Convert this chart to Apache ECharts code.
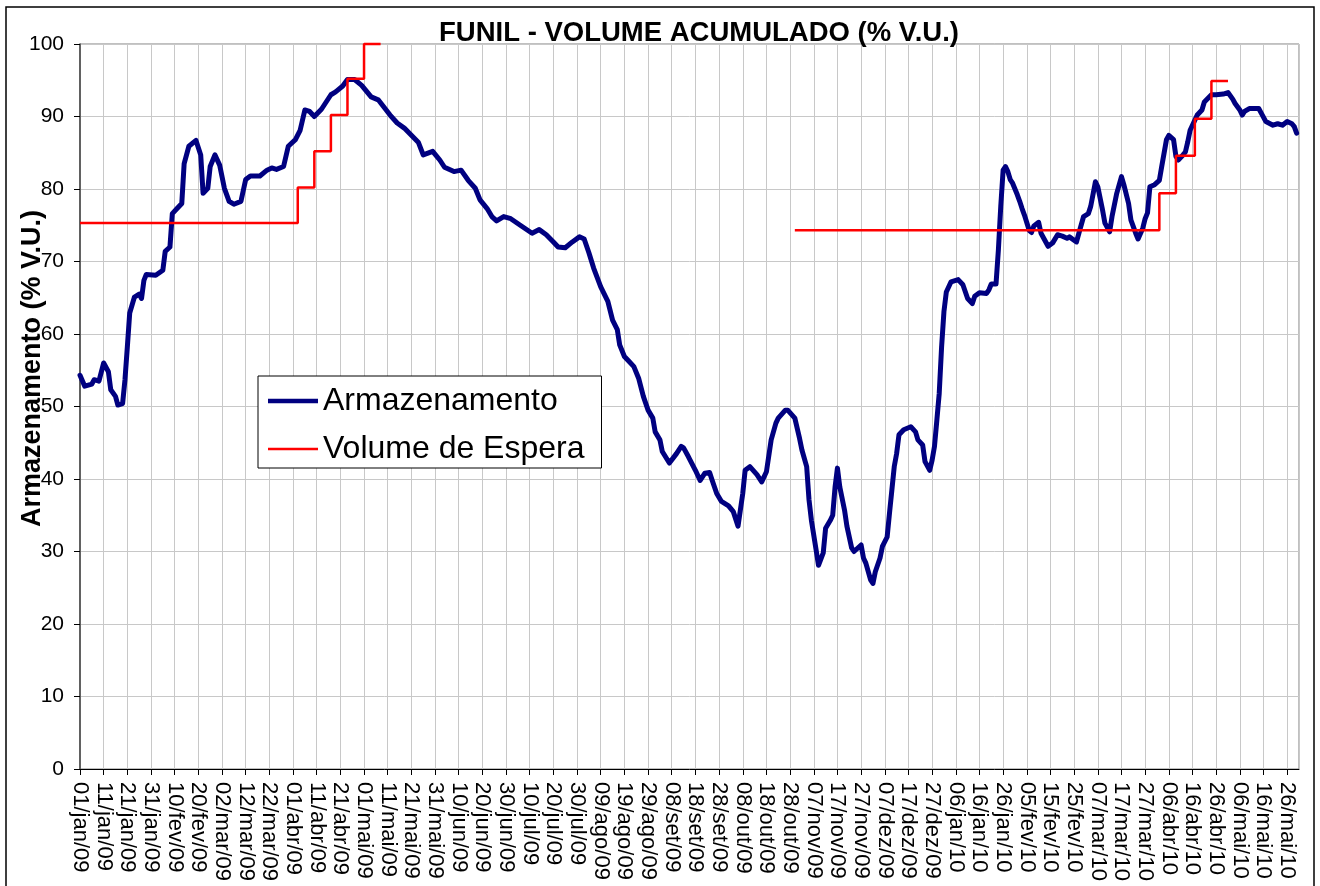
<!DOCTYPE html>
<html>
<head>
<meta charset="utf-8">
<title>FUNIL - VOLUME ACUMULADO</title>
<script src="https://cdn.jsdelivr.net/npm/echarts@6/dist/echarts.min.js"></script>
<style>
  html, body { margin: 0; padding: 0; background: #fff; }
  #main { width: 1320px; height: 886px; }
</style>
</head>
<body>
<div id="main"></div>
<script>
// dias contados a partir de 01/jan/09
var armDias = [0, 2, 5, 6, 8, 10, 12, 13, 15, 16, 18, 19, 20, 21, 23, 25, 26, 27, 28, 32,
  35, 36, 38, 39, 41, 43, 44, 46, 49, 51, 52, 54, 55, 57, 59, 61, 63, 65, 68, 70,
  72, 76, 79, 81, 83, 86, 88, 91, 93, 95, 97, 99, 102, 104, 106, 108, 111, 113, 116, 119,
  123, 126, 131, 134, 137, 140, 143, 145, 149, 152, 154, 158, 161, 164, 167, 169, 172, 174, 176, 179,
  182, 186, 191, 194, 197, 200, 202, 205, 208, 211, 213, 215, 217, 220, 223, 225, 227, 228, 230, 232,
  234, 236, 238, 240, 242, 243, 245, 246, 249, 252, 254, 255, 257, 260, 262, 264, 266, 267, 269, 271,
  274, 276, 278, 280, 281, 283, 286, 288, 290, 292, 294, 295, 298, 299, 302, 304, 305, 307, 308, 309,
  311, 312, 314, 315, 317, 318, 319, 320, 321, 323, 324, 326, 327, 330, 331, 332, 334, 335, 336, 338,
  339, 341, 342, 343, 344, 345, 346, 348, 351, 353, 354, 356, 357, 359, 360, 361, 362, 363, 364, 365,
  366, 368, 371, 373, 375, 377, 378, 380, 383, 384, 385, 387, 388, 389, 390, 391, 392, 393, 394, 396,
  397, 398, 399, 401, 402, 403, 405, 406, 409, 411, 413, 415, 417, 418, 421, 422, 424, 426, 427, 429,
  430, 432, 433, 435, 436, 438, 440, 441, 443, 444, 446, 447, 449, 450, 451, 452, 454, 456, 457, 459,
  460, 462, 463, 464, 466, 467, 468, 469, 471, 472, 474, 475, 478, 480, 483, 485, 487, 488, 490, 491,
  492, 494, 498, 499, 501, 504, 506, 508, 510, 512, 513, 514];
var armValores = [54.3, 52.8, 53.1, 53.7, 53.5, 56.0, 54.8, 52.3, 51.4, 50.2, 50.4, 53.7, 58.2, 62.9, 65.1, 65.5, 64.9, 67.4, 68.2, 68.1,
  68.8, 71.4, 72.0, 76.6, 77.3, 78.0, 83.5, 85.9, 86.7, 84.7, 79.4, 80.1, 83.1, 84.7, 83.3, 80.1, 78.3, 77.9, 78.3, 81.3,
  81.8, 81.8, 82.6, 82.9, 82.7, 83.1, 85.9, 86.8, 88.1, 90.9, 90.7, 90.0, 91.0, 92.0, 93.0, 93.4, 94.2, 95.1, 95.1, 94.3,
  92.7, 92.3, 90.2, 89.1, 88.4, 87.4, 86.4, 84.7, 85.2, 84.0, 83.0, 82.4, 82.6, 81.2, 80.1, 78.5, 77.3, 76.2, 75.6, 76.2,
  75.9, 75.0, 73.9, 74.4, 73.7, 72.7, 72.0, 71.9, 72.7, 73.4, 73.1, 71.2, 69.1, 66.5, 64.5, 61.9, 60.6, 58.5, 56.9, 56.2,
  55.5, 53.9, 51.4, 49.5, 48.4, 46.5, 45.4, 43.8, 42.2, 43.5, 44.5, 44.3, 43.1, 41.2, 39.8, 40.8, 40.9, 39.9, 38.0, 36.9,
  36.3, 35.5, 33.5, 38.0, 41.2, 41.7, 40.6, 39.6, 41.0, 45.4, 47.7, 48.4, 49.5, 49.5, 48.4, 45.6, 44.0, 41.7, 37.1, 34.3,
  30.2, 28.1, 29.8, 33.2, 34.3, 35.0, 38.9, 41.5, 38.9, 35.7, 33.5, 30.5, 30.0, 30.9, 29.1, 28.4, 26.1, 25.6, 27.2, 29.1,
  30.7, 32.0, 35.3, 38.5, 41.7, 43.5, 46.1, 46.8, 47.2, 46.5, 45.4, 44.7, 42.4, 41.2, 42.6, 44.5, 48.1, 51.8, 58.2, 63.1,
  65.8, 67.2, 67.5, 66.8, 64.9, 64.2, 65.2, 65.7, 65.6, 66.1, 66.9, 66.9, 71.6, 77.6, 82.6, 83.1, 82.4, 81.3, 80.8, 79.2,
  78.3, 77.3, 76.4, 74.3, 74.0, 74.9, 75.4, 73.9, 72.1, 72.6, 73.7, 73.5, 73.2, 73.4, 72.7, 73.9, 76.2, 76.6, 77.6, 81.0,
  80.3, 77.1, 75.3, 74.1, 76.2, 79.4, 81.7, 80.6, 78.0, 75.7, 73.9, 73.1, 74.6, 75.9, 76.7, 80.3, 80.6, 81.2, 83.1, 86.8,
  87.4, 86.8, 84.5, 84.0, 84.7, 85.1, 86.5, 88.1, 89.5, 90.2, 90.9, 92.0, 93.0, 93.0, 93.1, 93.3, 92.4, 91.8, 90.9, 90.2,
  90.7, 91.1, 91.1, 90.5, 89.3, 88.8, 89.0, 88.8, 89.3, 89.0, 88.6, 87.7];

// volume de espera (degraus semanais), dois trechos
var espera1Dias = [0, 92, 99, 106, 113, 120, 127];
var espera1Valores = [75.3, 80.2, 85.2, 90.2, 95.2, 100, 100];
var espera2Dias = [302, 456, 463, 471, 478, 485];
var espera2Valores = [74.3, 79.4, 84.6, 89.7, 94.9, 94.9];

var rotulosData = ['01/jan/09', '11/jan/09', '21/jan/09', '31/jan/09', '10/fev/09', '20/fev/09',
  '02/mar/09', '12/mar/09', '22/mar/09', '01/abr/09', '11/abr/09', '21/abr/09', '01/mai/09',
  '11/mai/09', '21/mai/09', '31/mai/09', '10/jun/09', '20/jun/09', '30/jun/09', '10/jul/09',
  '20/jul/09', '30/jul/09', '09/ago/09', '19/ago/09', '29/ago/09', '08/set/09', '18/set/09',
  '28/set/09', '08/out/09', '18/out/09', '28/out/09', '07/nov/09', '17/nov/09', '27/nov/09',
  '07/dez/09', '17/dez/09', '27/dez/09', '06/jan/10', '16/jan/10', '26/jan/10', '05/fev/10',
  '15/fev/10', '25/fev/10', '07/mar/10', '17/mar/10', '27/mar/10', '06/abr/10', '16/abr/10',
  '26/abr/10', '06/mai/10', '16/mai/10', '26/mai/10'];
var ultimoDia = 515;

function pares(dias, valores) {
    var out = [];
    for (var i = 0; i < dias.length; i++) {
        out.push([dias[i], valores[i]]);
    }
    return out;
}

var fonte = '"Liberation Sans", Arial, sans-serif';
var myChart = echarts.init(document.getElementById('main'));
var option = {
    backgroundColor: '#fff',
    animation: false,
    title: {
        text: 'FUNIL - VOLUME ACUMULADO (% V.U.)',
        left: 694,
        textAlign: 'center',
        top: 14,
        textStyle: { fontFamily: fonte, fontSize: 27.5, fontWeight: 'bold', color: '#000' }
    },
    legend: {
        orient: 'vertical',
        left: 258,
        top: 376,
        padding: [9, 17, 3, 10],
        itemGap: 16,
        itemWidth: 50,
        itemHeight: 14,
        backgroundColor: '#fff',
        borderColor: '#000',
        borderWidth: 1,
        borderRadius: 0,
        textStyle: { fontFamily: fonte, fontSize: 32, color: '#000' },
        data: [
            { name: 'Armazenamento', icon: 'path://M0,0H50V4.5H0Z' },
            { name: 'Volume de Espera', icon: 'path://M0,0H50V2.5H0Z' }
        ]
    },
    grid: {
        left: 80, top: 44, right: 21, bottom: 117,
        containLabel: false,
        outerBoundsMode: 'none',
        show: true, borderColor: '#808080', borderWidth: 1
    },
    xAxis: {
        type: 'value',
        min: 0,
        max: ultimoDia,
        interval: 10,
        axisLine: { show: true, lineStyle: { color: '#000', width: 1 } },
        axisTick: { show: true, length: 6, lineStyle: { color: '#000' } },
        splitLine: { show: true, lineStyle: { color: '#c8c8c8', width: 1 } },
        axisLabel: {
            rotate: -90,
            margin: 13,
            showMaxLabel: false,
            fontFamily: fonte,
            fontSize: 22,
            color: '#000',
            formatter: function (v) {
                var k = v / 10;
                return rotulosData[k] || '';
            }
        }
    },
    yAxis: {
        type: 'value',
        min: 0,
        max: 100,
        interval: 10,
        name: 'Armazenamento (% V.U.)',
        nameLocation: 'middle',
        nameGap: 34,
        nameMoveOverlap: false,
        nameTextStyle: {
            fontFamily: fonte, fontSize: 27, fontWeight: 'bold', color: '#000',
            padding: [0, 0, 0, 76]
        },
        axisLine: { show: true, lineStyle: { color: '#404040', width: 1.5 } },
        axisTick: { show: true, length: 6, lineStyle: { color: '#000' } },
        splitLine: { show: true, lineStyle: { color: '#c8c8c8', width: 1 } },
        axisLabel: { margin: 16, fontFamily: fonte, fontSize: 21, color: '#000' }
    },
    graphic: [{
        type: 'rect',
        shape: { x: 6, y: 7, width: 1308, height: 890 },
        style: { fill: 'none', stroke: '#000', lineWidth: 1.5 },
        silent: true
    }],
    series: [
        {
            name: 'Armazenamento',
            type: 'line',
            data: pares(armDias, armValores),
            symbol: 'none',
            clip: false,
            lineStyle: { color: '#000080', width: 5, cap: 'round', join: 'round' },
            itemStyle: { color: '#000080' }
        },
        {
            name: 'Volume de Espera',
            type: 'line',
            step: 'end',
            data: pares(espera1Dias, espera1Valores),
            symbol: 'none',
            clip: false,
            lineStyle: { color: '#ff0000', width: 2.5 },
            itemStyle: { color: '#ff0000' }
        },
        {
            name: 'Volume de Espera',
            type: 'line',
            step: 'end',
            data: pares(espera2Dias, espera2Valores),
            symbol: 'none',
            clip: false,
            lineStyle: { color: '#ff0000', width: 2.5 },
            itemStyle: { color: '#ff0000' }
        }
    ]
};
myChart.setOption(option);
</script>
</body>
</html>
